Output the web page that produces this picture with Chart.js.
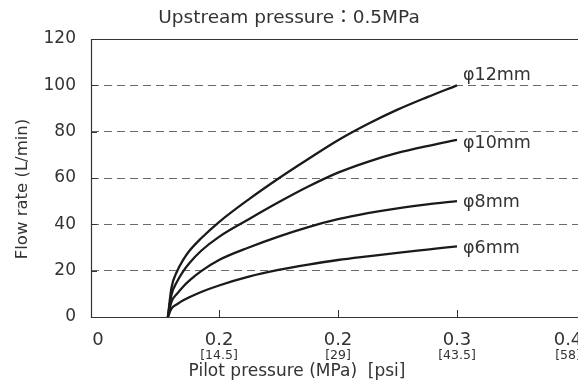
<!DOCTYPE html>
<html>
<head>
<meta charset="utf-8">
<script src="https://cdn.jsdelivr.net/npm/chart.js@4"></script>
<style>
  html, body { margin: 0; padding: 0; background: #fff; }
  #wrap { width: 578px; height: 383px; }
</style>
</head>
<body>
<div id="wrap"><canvas id="flowChart" width="578" height="383"></canvas></div>
<script>
// Data
const pressure = [0.057, 0.06, 0.065, 0.07, 0.075, 0.085, 0.1, 0.125, 0.15, 0.175, 0.2, 0.225, 0.25, 0.275, 0.3];
const flow12 = [0, 12.5, 20, 24.8, 28.5, 34, 41, 50.8, 59.8, 68.2, 76.3, 83.3, 89.5, 94.9, 100];
const flow10 = [0, 9.5, 15.5, 19.8, 23.2, 28.6, 34.6, 42.2, 49.5, 56.3, 62.3, 67, 70.8, 73.8, 76.5];
const flow8 = [0, 6.5, 10.2, 13.2, 15.7, 19.8, 24.6, 30, 34.7, 38.8, 42.2, 44.8, 46.9, 48.6, 50];
const flow6 = [0, 3.6, 5.6, 7.2, 8.5, 10.8, 13.6, 17.4, 20.3, 22.6, 24.6, 26.2, 27.7, 29.1, 30.5];
const seriesNames = ['φ12mm', 'φ10mm', 'φ8mm', 'φ6mm'];

const xTicks = [0, 0.1, 0.2, 0.3, 0.4];
const xTickLabels = ['0', '0.2', '0.2', '0.3', '0.4'];
const xTickPsi = ['', '[14.5]', '[29]', '[43.5]', '[58]'];

const FONT = '"DejaVu Sans", "Noto Sans CJK JP", sans-serif';
const TEXT = '#333';

function toPoints(ys) {
    return pressure.map((p, i) => ({ x: p, y: ys[i] }));
}

// frame, inner tick marks, x labels, axis titles and series labels
const decorations = {
    id: 'decorations',
    afterDraw(chart) {
        const ctx = chart.ctx;
        const area = chart.chartArea;
        const xs = chart.scales.x;
        const ys = chart.scales.y;
        ctx.save();

        // frame
        ctx.strokeStyle = '#333';
        ctx.lineWidth = 1.2;
        ctx.beginPath();
        ctx.moveTo(area.right, area.top + 0.5);
        ctx.lineTo(area.left + 0.5, area.top + 0.5);
        ctx.lineTo(area.left + 0.5, area.bottom + 0.5);
        ctx.lineTo(area.right, area.bottom + 0.5);
        ctx.stroke();

        // inner tick marks
        ctx.lineWidth = 1;
        ctx.beginPath();
        ys.ticks.forEach(t => {
            if (t.value <= 0 || t.value >= 120) return;
            const y = Math.round(ys.getPixelForValue(t.value)) + 0.5;
            ctx.moveTo(area.left, y);
            ctx.lineTo(area.left + 6, y);
        });
        xTicks.forEach(v => {
            if (v <= 0 || v >= 0.4) return;
            const x = Math.round(xs.getPixelForValue(v)) + 0.5;
            ctx.moveTo(x, area.bottom);
            ctx.lineTo(x, area.bottom - 7);
        });
        ctx.stroke();

        // x tick labels
        ctx.fillStyle = TEXT;
        ctx.textBaseline = 'middle';
        ctx.textAlign = 'center';
        xTicks.forEach((v, i) => {
            let x = Math.min(xs.getPixelForValue(v), chart.width - 10);
            ctx.font = '18px ' + FONT;
            ctx.fillText(xTickLabels[i], i === 0 ? x - 2 : x, 340);
            ctx.font = '12.5px ' + FONT;
            ctx.fillText(xTickPsi[i], x, 356);
        });

        // x axis title
        ctx.font = '17px ' + FONT;
        ctx.fillText('Pilot pressure (MPa)  [psi]', 297, 372);

        // y axis title
        ctx.save();
        ctx.translate(23, 189);
        ctx.rotate(-Math.PI / 2);
        ctx.font = '16.5px ' + FONT;
        ctx.fillText('Flow rate (L/min)', 0, 0);
        ctx.restore();

        // series labels at the curve ends
        const offsets = [-10, 4, 1, 2];
        ctx.font = '17.5px ' + FONT;
        ctx.textAlign = 'left';
        chart.data.datasets.forEach((ds, i) => {
            const meta = chart.getDatasetMeta(i);
            const last = meta.data[meta.data.length - 1];
            ctx.fillText(seriesNames[i], last.x + 6, last.y + offsets[i]);
        });
        ctx.restore();
    }
};

Chart.defaults.font.family = FONT;
Chart.defaults.color = TEXT;

new Chart(document.getElementById('flowChart').getContext('2d'), {
    type: 'line',
    data: {
        datasets: [flow12, flow10, flow8, flow6].map((ys, i) => ({
            label: seriesNames[i],
            data: toPoints(ys),
            borderColor: '#1a1a1a',
            borderWidth: 2.3,
            pointRadius: 0,
            fill: false,
            cubicInterpolationMode: 'monotone'
        }))
    },
    options: {
        responsive: false,
        animation: false,
        layout: { padding: 0 },
        plugins: {
            legend: { display: false },
            tooltip: { enabled: false },
            title: {
                display: true,
                text: 'Upstream pressure：0.5MPa',
                color: TEXT,
                font: { size: 18.5, weight: 'normal' },
                padding: { top: 7, bottom: 9.8 }
            }
        },
        scales: {
            x: {
                type: 'linear',
                min: -0.0076,
                max: 0.4017,
                ticks: { display: false },
                grid: { display: false, drawTicks: false },
                border: { display: false },
                afterFit(scale) { scale.height = 66; }
            },
            y: {
                min: 0,
                max: 120,
                ticks: { stepSize: 20, padding: 15, font: { size: 17 }, color: TEXT },
                grid: {
                    drawTicks: false,
                    color: ctx => (ctx.tick.value === 0 || ctx.tick.value === 120) ? 'rgba(0,0,0,0)' : '#6a6a6a',
                    lineWidth: 1
                },
                border: { display: false, dash: [8, 5] },
                afterFit(scale) { scale.width = 91; }
            }
        }
    },
    plugins: [decorations]
});
</script>
</body>
</html>
